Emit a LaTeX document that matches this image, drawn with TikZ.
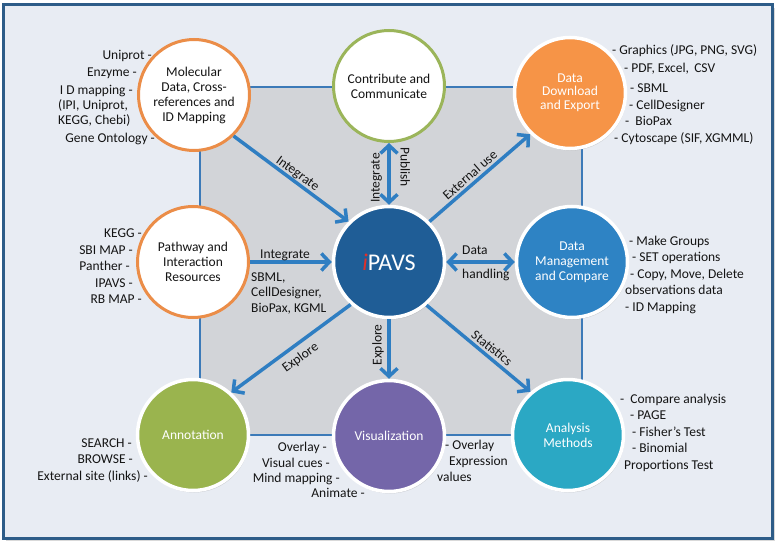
\documentclass[tikz,border=0pt]{standalone}
\usepackage{fontspec}
\setmainfont{Carlito}
\usetikzlibrary{arrows.meta,shadows}
\definecolor{frameb}{HTML}{2D5C88}
\definecolor{bgfill}{HTML}{E8ECF3}
\definecolor{greyf}{HTML}{D2D4D8}
\definecolor{greyb}{HTML}{3C7AB8}
\definecolor{orng}{HTML}{EB8D48}
\definecolor{grn}{HTML}{9BB55A}
\definecolor{dlf}{HTML}{F69447}
\definecolor{ipf}{HTML}{1F5D96}
\definecolor{mgf}{HTML}{2E83C4}
\definecolor{anf}{HTML}{9AB44E}
\definecolor{vif}{HTML}{7466A9}
\definecolor{atf}{HTML}{2BA8C4}
\definecolor{arrc}{HTML}{2F7EC2}
\definecolor{txt}{HTML}{141414}
\definecolor{ired}{HTML}{E0302A}
\newcommand\lblfont{\fontsize{13.5}{16}\selectfont}
\newcommand\cfont{\fontsize{13.5}{15}\selectfont}
\tikzset{
  bub/.style={circle, minimum size=111pt, inner sep=0pt, outer sep=auto, align=center, font=\cfont},
  wbub/.style={bub, fill=white, draw=orng, line width=3pt, text=txt},
  fbub/.style={bub, draw=white, line width=3.5pt, text=white,
    drop shadow={opacity=0.3, shadow xshift=1pt, shadow yshift=-2pt}},
  lst/.style={font=\lblfont, text=txt, inner sep=0pt, text height=10pt, text depth=1pt},
  arr/.style={draw=arrc, line width=3.5pt, -{Straight Barb[length=8pt,width=17pt]}},
  darr/.style={draw=arrc, line width=3.5pt, {Straight Barb[length=8pt,width=17pt]}-{Straight Barb[length=8pt,width=17pt]}},
}
\begin{document}
\begin{tikzpicture}[x=1pt,y=-1pt]
\useasboundingbox (0,0) rectangle (777,543);
% frame
\fill[black!15] (6,8) rectangle (775,541);
\draw[frameb, fill=bgfill, line width=3pt] (3,5) rectangle (772,538);
\draw[greyb, fill=greyf, line width=1.2pt] (200,87) rectangle (582,435);

% circles
\node[wbub] (mol) at (194,95) {Molecular\\Data, Cross-\\references and\\ID Mapping};
\node[wbub, draw=grn] (con) at (389,86) {Contribute and\\Communicate};
\node[fbub, fill=dlf] (dl) at (570,93) {\raisebox{4pt}{\begin{tabular}{@{}c@{}}Data\\[-1.5pt]Download\\[-1.5pt]and Export\end{tabular}}};
\node[wbub] (path) at (193,262) {Pathway and\\Interaction\\Resources};
\node[fbub, fill=ipf, font=\fontsize{24}{28}\selectfont] (ipavs) at (389,262) {\textcolor{ired}{\itshape i}PAVS};
\node[fbub, fill=mgf] (mgmt) at (572,262) {Data\\Management\\and Compare};
\node[fbub, fill=anf] (ann) at (193,435) {Annotation};
\node[fbub, fill=vif] (vis) at (389,436) {Visualization};
\node[fbub, fill=atf] (ana) at (568,435) {Analysis\\Methods};

% connectors
\draw[arr] (mol.-46) -- (ipavs.135);
\draw[darr] (ipavs.north) -- (con.south);
\draw[arr] (ipavs.45) -- (dl.226);
\draw[arr] (path.east) -- (ipavs.west);
\draw[darr] (ipavs.east) -- (mgmt.west);
\draw[arr] (ipavs.228) -- (ann.48);
\draw[arr] (ipavs.south) -- (vis.north);
\draw[arr] (ipavs.-49) -- (ana.131);

% arrow labels
\node[lst, rotate=-36] (l1) at (298,173) {Integrate};
\node[lst, rotate=90] (l2) at (375,178) {Integrate};
\node[lst, rotate=-90] (l3) at (405,167) {Publish};
\node[lst, rotate=41] (l4) at (470,175) {External use};
\node[lst, anchor=west] (l5) at (260,254) {Integrate};
\node[lst, anchor=west] (l6) at (251,277) {SBML,};
\node[lst, anchor=west] (l7) at (251,292) {CellDesigner,};
\node[lst, anchor=west] (l8) at (251,308) {BioPax, KGML};
\node[lst, anchor=west] (l9) at (462,250) {Data};
\node[lst, anchor=west] (l10) at (462,274) {handling};
\node[lst, rotate=36] (l11) at (300,357) {Explore};
\node[lst, rotate=90] (l12) at (377,345) {Explore};
\node[lst, rotate=-39] (l13) at (492,348) {Statistics};

% molecular list
\node[lst, anchor=east] (m1) at (152,55) {Uniprot -};
\node[lst, anchor=east] (m2) at (137,72) {Enzyme -};
\node[lst, anchor=east] (m3) at (133,90) {I D mapping -};
\node[lst, anchor=west] (m4) at (58,105) {(IPI, Uniprot,};
\node[lst, anchor=west] (m5) at (58,120) {KEGG, Chebi)};
\node[lst, anchor=east] (m6) at (155,138) {Gene Ontology -};

% pathway list
\node[lst, anchor=east] (p1) at (142,233) {KEGG -};
\node[lst, anchor=east] (p2) at (133,250) {SBI MAP -};
\node[lst, anchor=east] (p3) at (130,266) {Panther -};
\node[lst, anchor=east] (p4) at (133,283) {IPAVS -};
\node[lst, anchor=east] (p5) at (142,299) {RB MAP -};

% annotation list
\node[lst, anchor=east] (a1) at (132,443) {SEARCH -};
\node[lst, anchor=east] (a2) at (133,459) {BROWSE -};
\node[lst, anchor=east] (a3) at (148,476) {External site (links) -};

% visualization lists
\node[lst, anchor=east] (v1) at (327,447) {Overlay -};
\node[lst, anchor=east] (v2) at (330,463) {Visual cues -};
\node[lst, anchor=east] (v3) at (340,478) {Mind mapping -};
\node[lst, anchor=east] (v4) at (365,493) {Animate -};
\node[lst, anchor=west] (v5) at (445,445) {- Overlay};
\node[lst, anchor=west] (v6) at (449,461) {Expression};
\node[lst, anchor=west] (v7) at (437,477) {values};

% download list
\node[lst, anchor=west] (d1) at (612,50) {- Graphics (JPG, PNG, SVG)};
\node[lst, anchor=west] (d2) at (624,68) {- PDF, Excel, \,CSV};
\node[lst, anchor=west] (d3) at (630,88) {- SBML};
\node[lst, anchor=west] (d4) at (629,105) {- CellDesigner};
\node[lst, anchor=west] (d5) at (625,121) {-\ \ BioPax};
\node[lst, anchor=west] (d6) at (614,138) {- Cytoscape (SIF, XGMML)};

% management list
\node[lst, anchor=west] (g1) at (629,241) {- Make Groups};
\node[lst, anchor=west] (g2) at (632,257) {- SET operations};
\node[lst, anchor=west] (g3) at (630,274) {- Copy, Move, Delete};
\node[lst, anchor=west] (g4) at (625,290) {observations data};
\node[lst, anchor=west] (g5) at (625,307) {- ID Mapping};

% analysis list
\node[lst, anchor=west] (n1) at (620,399) {-\ \ Compare analysis};
\node[lst, anchor=west] (n2) at (630,415) {- PAGE};
\node[lst, anchor=west] (n3) at (632,432) {- Fisher’s Test};
\node[lst, anchor=west] (n4) at (632,448) {- Binomial};
\node[lst, anchor=west] (n5) at (624,465) {Proportions Test};
\end{tikzpicture}
\end{document}
